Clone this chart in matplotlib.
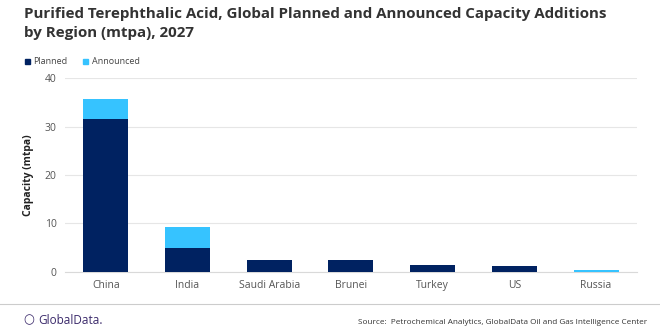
import matplotlib
matplotlib.use("Agg")
import matplotlib.pyplot as plt
from matplotlib.patches import Rectangle
from matplotlib.lines import Line2D

regions = ["China", "India", "Saudi Arabia", "Brunei", "Turkey", "US", "Russia"]
planned = [31.5, 4.9, 2.4, 2.4, 1.4, 1.2, 0.0]
announced = [4.2, 4.3, 0.0, 0.0, 0.0, 0.0, 0.35]

navy = "#002261"
light = "#36C3FF"
font = "Open Sans"
plt.rcParams["font.family"] = [font, "DejaVu Sans"]

fig = plt.figure(figsize=(6.6, 3.3), dpi=100)
ax = fig.add_axes([0.0985, 0.1767, 0.8665, 0.586])

x = range(len(regions))
ax.bar(x, planned, width=0.55, color=navy, zorder=3)
ax.bar(x, announced, width=0.55, bottom=planned, color=light, zorder=3)

ax.set_xlim(-0.5, len(regions) - 0.5)
ax.set_ylim(0, 40)
ax.set_yticks([0, 10, 20, 30, 40])
ax.set_xticks(list(x))
ax.set_xticklabels(regions)
ax.tick_params(axis="both", length=0, labelsize=7.5, colors="#555555", pad=6)
ax.grid(axis="y", color="#E6E6E6", linewidth=0.8, zorder=0)
for s in ["top", "right", "left"]:
    ax.spines[s].set_visible(False)
ax.spines["bottom"].set_color("#D9D9D9")
ax.set_ylabel("Capacity (mtpa)", fontsize=7.5, fontweight="bold", color="#222222", labelpad=8)

fig.text(24 / 660, 1 - 7 / 330,
         "Purified Terephthalic Acid, Global Planned and Announced Capacity Additions\nby Region (mtpa), 2027",
         fontsize=10.9, fontweight="bold", color="#333333", va="top", ha="left", linespacing=1.45)

# legend
fig.patches.append(Rectangle((25 / 660, 1 - 64 / 330), 5 / 660, 5 / 330, transform=fig.transFigure, color=navy))
fig.text(33 / 660, 1 - 61.5 / 330, "Planned", fontsize=6.5, color="#444444", va="center", ha="left")
fig.patches.append(Rectangle((83 / 660, 1 - 64 / 330), 5 / 660, 5 / 330, transform=fig.transFigure, color=light))
fig.text(92 / 660, 1 - 61.5 / 330, "Announced", fontsize=6.5, color="#444444", va="center", ha="left")

# footer
fig.lines.append(Line2D([0, 1], [1 - 304 / 330] * 2, transform=fig.transFigure, color="#CCCCCC", linewidth=0.8))
fig.text(23 / 660, 1 - 320 / 330, "\u25CB", fontsize=9, color="#3B2A6B", va="center", ha="left")
fig.text(38 / 660, 1 - 320 / 330, "GlobalData.", fontsize=8.5, color="#3B2A6B", va="center", ha="left")
fig.text(647 / 660, 1 - 322 / 330, "Source:  Petrochemical Analytics, GlobalData Oil and Gas Intelligence Center",
         fontsize=5.85, color="#333333", va="center", ha="right")

fig.savefig("out.png", dpi=100)
